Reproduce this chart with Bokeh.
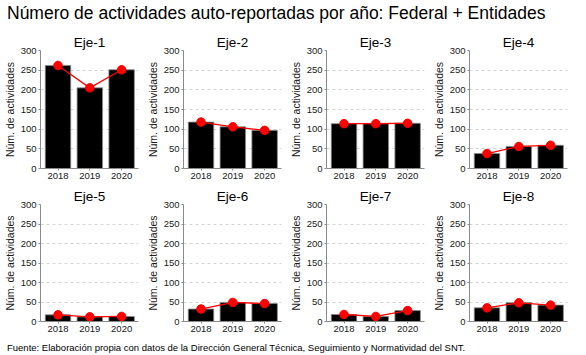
from bokeh.plotting import figure
from bokeh.layouts import column, row
from bokeh.models import Div, Range1d, FixedTicker, ColumnDataSource
from bokeh.embed import file_html
from bokeh.resources import INLINE

title_text = "Número de actividades auto-reportadas por año: Federal + Entidades"
caption_text = "Fuente: Elaboración propia con datos de la Dirección General Técnica, Seguimiento y Normatividad del SNT."
y_label = "Núm. de actividades"

years = ["2018", "2019", "2020"]
ejes = ["Eje-1", "Eje-2", "Eje-3", "Eje-4", "Eje-5", "Eje-6", "Eje-7", "Eje-8"]
eje1 = [262, 205, 251]
eje2 = [118, 106, 97]
eje3 = [114, 114, 115]
eje4 = [38, 56, 59]
eje5 = [17, 12, 13]
eje6 = [32, 49, 46]
eje7 = [18, 13, 28]
eje8 = [35, 48, 42]
values = [eje1, eje2, eje3, eje4, eje5, eje6, eje7, eje8]
y_ticks = [0, 50, 100, 150, 200, 250, 300]

FONT = "Liberation Sans"
pos = list(range(1, len(years) + 1))


def make_panel(name, vals, row_idx):
    top = 24 if row_idx == 0 else 20
    h = 158 if row_idx == 0 else 153
    p = figure(width=143, height=h, output_backend="svg", toolbar_location=None,
               x_range=Range1d(0.45, 3.53), y_range=Range1d(0, 300),
               min_border_left=35, min_border_right=5, min_border_top=top,
               min_border_bottom=16, title=name)
    p.title.align = "center"
    p.title.text_font = FONT
    p.title.text_font_size = "13.5px"
    p.title.text_font_style = "normal"
    p.title.text_color = "#000000"
    p.title.standoff = 2
    p.outline_line_color = None
    p.background_fill_color = "white"

    src = ColumnDataSource(dict(x=pos, y=vals))
    p.vbar(x="x", top="y", width=0.8, source=src, fill_color="black",
           line_color="#8c8c8c", line_width=0.8)
    p.line(x="x", y="y", source=src, line_color="#ff0000", line_width=1.3)
    p.scatter(x="x", y="y", source=src, size=8.5, fill_color="#ff0000",
              line_color="#ff0000")

    p.xgrid.grid_line_color = None
    p.ygrid.grid_line_color = "#d4d4d4"
    p.ygrid.grid_line_dash = "3 3"
    p.ygrid.grid_line_width = 1
    p.ygrid.ticker = FixedTicker(ticks=y_ticks)

    p.xaxis.ticker = FixedTicker(ticks=pos)
    p.xaxis.major_label_overrides = {i: y for i, y in zip(pos, years)}
    p.yaxis.ticker = FixedTicker(ticks=y_ticks)
    p.yaxis.axis_label = y_label
    for ax in (p.xaxis[0], p.yaxis[0]):
        ax.axis_line_color = "#8a8a8a"
        ax.axis_line_width = 1
        ax.major_tick_line_color = "#8a8a8a"
        ax.major_tick_out = 2
        ax.major_tick_in = 0
        ax.minor_tick_line_color = None
        ax.major_label_text_font = FONT
        ax.major_label_text_font_size = "9.5px"
        ax.major_label_text_color = "#1a1a1a"
        ax.major_label_standoff = 2
    p.yaxis.axis_label_text_font = FONT
    p.yaxis.axis_label_text_font_size = "10.5px"
    p.yaxis.axis_label_text_font_style = "normal"
    p.yaxis.axis_label_text_color = "#1a1a1a"
    p.yaxis.axis_label_standoff = 2
    return p


panels = [make_panel(n, v, i // 4) for i, (n, v) in enumerate(zip(ejes, values))]

title_div = Div(text=title_text, width=572, height=16,
                styles={"font-family": FONT, "font-size": "17.5px", "line-height": "16px",
                        "color": "#000000", "padding-left": "2px", "white-space": "nowrap"})
caption_div = Div(text=caption_text, width=572, height=12,
                  styles={"font-family": FONT, "font-size": "9.5px", "line-height": "12px",
                          "color": "#000000", "padding-left": "2px", "white-space": "nowrap"})

layout = column(title_div, row(*panels[:4]), row(*panels[4:]), caption_div)

open("out.html", "w").write(file_html(layout, INLINE))
